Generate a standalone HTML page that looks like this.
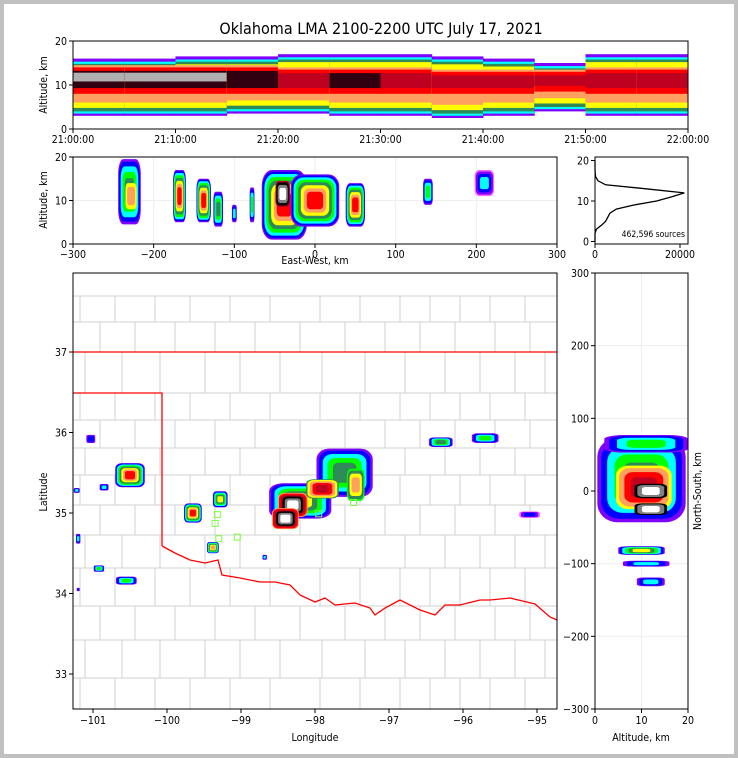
<!DOCTYPE html>
<html><head><meta charset="utf-8"><style>
html,body{margin:0;padding:0;background:#c0c0c0;}
#wrap{position:absolute;left:4px;top:4px;width:730px;height:750px;background:#fff;}
svg{position:absolute;left:0;top:0;}
text{font-family:"DejaVu Sans Condensed","DejaVu Sans","Liberation Sans",sans-serif;font-size:10.5px;fill:#000;}
</style></head><body>
<div id="wrap"></div>
<svg id="fig" width="738" height="758" viewBox="0 0 738 758">
<text x="381" y="34" text-anchor="middle" style="font-size:16px">Oklahoma LMA 2100-2200 UTC July 17, 2021</text>
<g id="time"></g><g id="ew"></g><g id="hist"></g><g id="map"></g><g id="ns"></g>
</svg>
<script>
// ---------- data ----------
const levelColors=['#ff66ff','#8000ff','#0000ff','#00ffff','#00ff00','#2e8b57','#ffff00','#ffa060','#ff0000','#c00020','#000000','#808080','#ffffff'];
// time-height: per 5-min bin
const timeBins=[0,5,10,15,20,25,30,35,40,45,50,55];
const timeBot=[3,3,3,3.5,3.5,3,3,2.5,3,4,3,3];
const timeTop=[16,16,16.5,16.5,17,17,17,16.5,16,15,17,17];
const timeCoreBot=[9,9,9,9,9,9,9,9,9,9.5,9,9];
const timeCoreTop=[14,14,14,14,13.5,13.5,13.5,13,13,13,13.5,13.5];
const timePeak=[12,12,12,11,10,11,10,9,9,8,9,9];
// east-west vs altitude cells: x km, alt km, rx km, ry km, start level, peak level
const ewX=[-230,-228,-168,-138,-120,-100,-78,-38,0,50,-40,140,210];
const ewAlt=[12,11,11,10,8,7,9,9,10,9,11.5,12,14];
const ewRx=[14,7,8,9,6,3,3,28,30,12,9,6,12];
const ewRy=[7.5,3,6,5,4,2,4,8,6,5,3,3,3];
const ewStart=[1,6,1,1,1,1,1,1,1,1,9,1,0];
const ewPeak=[5,7,8,8,5,3,4,8,8,8,12,4,3];
// altitude histogram (counts per km)
const histAlt=[0,1,2,3,4,5,6,7,8,9,10,11,12,13,14,15,16,17,18,19,20];
const histCount=[0,0,0,300,1500,2500,3000,3500,5000,9000,14500,18000,21000,12000,2500,700,150,40,10,0,0];
// map cells: lon, lat, rx deg, ry deg, start level, peak level
const cellLon=[-101.03,-100.5,-100.85,-101.22,-99.65,-99.28,-99.38,-101.2,-100.92,-100.55,-97.6,-98.2,-98.3,-98.4,-97.9,-97.45,-96.3,-95.7,-95.1,-98.68,-101.2];
const cellLat=[35.92,35.47,35.32,35.28,35.0,35.17,34.57,34.68,34.31,34.16,35.5,35.15,35.1,34.93,35.3,35.35,35.88,35.93,34.98,34.45,34.05];
const cellRx=[0.06,0.2,0.06,0.04,0.12,0.1,0.08,0.03,0.07,0.14,0.38,0.42,0.2,0.18,0.22,0.12,0.16,0.18,0.14,0.03,0.02];
const cellRy=[0.05,0.15,0.04,0.03,0.12,0.1,0.07,0.06,0.04,0.05,0.3,0.22,0.15,0.13,0.12,0.2,0.06,0.06,0.04,0.03,0.02];
const cellStart=[1,1,1,1,1,1,1,1,1,1,1,1,7,7,5,4,1,1,0,1,1];
const cellPeak=[2,8,3,3,8,6,7,3,4,4,5,6,12,12,9,7,5,4,2,3,2];
// station markers
const staLon=[-99.35,-99.3,-99.05,-99.32,-97.48,-97.95];
const staLat=[34.87,34.68,34.7,34.98,35.13,34.99];
// north-south vs altitude cells: alt km, ns km, rx km, ry km, start, peak
const nsAlt=[10,10.5,12,12,11,10,11,12];
const nsNS=[15,5,0,-25,65,-82,-100,-125];
const nsRx=[9.5,6,3.5,3.5,9,5,5,3];
const nsRy=[58,30,10,8,12,6,4,6];
const nsStart=[1,6,10,10,1,1,1,1];
const nsPeak=[5,9,12,12,4,6,3,3];
// ticks
const timeTicks=['21:00:00','21:10:00','21:20:00','21:30:00','21:40:00','21:50:00','22:00:00'];
const lonTicks=[-101,-100,-99,-98,-97,-96,-95];
const latTicks=[33,34,35,36,37];

// ---------- helpers ----------
const NS='http://www.w3.org/2000/svg';
function mk(parent,tag,attrs){const e=document.createElementNS(NS,tag);for(const k in attrs)e.setAttribute(k,attrs[k]);parent.appendChild(e);return e;}
function txt(parent,x,y,s,anchor,extra){const t=mk(parent,'text',Object.assign({x:x,y:y,'text-anchor':anchor||'middle'},extra||{}));t.textContent=s;return t;}
function lbl(e,n){}
function blob(g,cx,cy,rx,ry,start,peak,name){
  const n=peak-start+1;
  for(let l=start;l<=peak;l++){const f=1-0.8*Math.pow((l-start)/n,1.4);
    const w=Math.max(rx*f,1),h=Math.max(ry*f,1);
    const e=mk(g,'rect',{x:cx-w,y:cy-h,width:2*w,height:2*h,rx:w*0.45,ry:h*0.45,fill:levelColors[l]});
    
    }
}
function frame(g,x0,y0,x1,y1,name){const r=mk(g,'rect',{x:x0,y:y0,width:x1-x0,height:y1-y0,fill:'none',stroke:'#000','stroke-width':1});}

// ---------- time-height panel ----------
(function(){const g=document.getElementById('time');const X0=73,X1=688,Y0=41,Y1=129;
 const sx=m=>X0+m*(X1-X0)/60, sy=a=>Y1-a*(Y1-Y0)/20;
 for(let i=0;i<timeBins.length;i++){
   const x0=sx(timeBins[i]),x1=sx(timeBins[i]+5);
   const layers=[[timeBot[i],timeTop[i],'#8000ff'],[timeBot[i]+0.5,timeTop[i]-0.7,'#00ffff'],[timeBot[i]+1,timeTop[i]-1.2,'#2e8b57'],[timeBot[i]+1.8,timeTop[i]-1.8,'#ffff00'],[timeBot[i]+3,timeCoreTop[i]+0.5,'#ffa060'],[timeCoreBot[i]-1,timeCoreTop[i],'#ff0000']];
   layers.forEach(L=>{const r=mk(g,'rect',{x:x0,y:sy(L[1]),width:x1-x0+0.5,height:sy(L[0])-sy(L[1]),fill:L[2]});
     
     });
   const c=mk(g,'rect',{x:x0,y:sy(timeCoreTop[i]-0.8),width:x1-x0+0.5,height:sy(timeCoreBot[i]+0.3)-sy(timeCoreTop[i]-0.8),fill:timePeak[i]>=11?'#300010':'#c00020'});
   
   
   if(timePeak[i]>=12){const w=mk(g,'rect',{x:x0,y:sy(12.8),width:x1-x0+0.5,height:sy(10.8)-sy(12.8),fill:'#b0b0b0'});
     
     }
 }
 frame(g,X0,Y0,X1,Y1,'time-height-axes');
 [0,10,20].forEach(v=>{mk(g,'line',{x1:X0-4,x2:X0,y1:sy(v),y2:sy(v),stroke:'#000'});txt(g,X0-6,sy(v)+4,v,'end');});
 timeTicks.forEach((s,i)=>{const x=sx(i*10);mk(g,'line',{x1:x,x2:x,y1:Y1,y2:Y1+4,stroke:'#000'});txt(g,x,Y1+14,s);});
 lbl(txt(g,0,0,'Altitude, km','middle',{transform:'translate(47,85) rotate(-90)'}),'time-y-axis-title');
})();

// ---------- east-west panel ----------
(function(){const g=document.getElementById('ew');const X0=73,X1=557,Y0=157,Y1=244;
 const sx=v=>X0+(v+300)*(X1-X0)/600, sy=a=>Y1-a*(Y1-Y0)/20;
 [-200,-100,0,100,200].forEach(v=>mk(g,'line',{x1:sx(v),x2:sx(v),y1:Y0,y2:Y1,stroke:'#eee'}));
 mk(g,'line',{x1:X0,x2:X1,y1:sy(10),y2:sy(10),stroke:'#eee'});
 for(let i=0;i<ewX.length;i++){const kx=(X1-X0)/600,ky=(Y1-Y0)/20;blob(g,sx(ewX[i]),sy(ewAlt[i]),ewRx[i]*kx,ewRy[i]*ky,ewStart[i],ewPeak[i],'ew-storm-cell');}
 frame(g,X0,Y0,X1,Y1,'east-west-axes');
 [0,10,20].forEach(v=>{mk(g,'line',{x1:X0-4,x2:X0,y1:sy(v),y2:sy(v),stroke:'#000'});txt(g,X0-6,sy(v)+4,v,'end');});
 [-300,-200,-100,0,100,200,300].forEach(v=>{const x=sx(v);mk(g,'line',{x1:x,x2:x,y1:Y1,y2:Y1+4,stroke:'#000'});txt(g,x,Y1+14,v<0?'\u2212'+(-v):v);});
 lbl(txt(g,315,264,'East-West, km'),'ew-x-axis-title');
 lbl(txt(g,0,0,'Altitude, km','middle',{transform:'translate(47,200) rotate(-90)'}),'ew-y-axis-title');
})();

// ---------- histogram ----------
(function(){const g=document.getElementById('hist');const X0=595,X1=688,Y0=157,Y1=244;
 const sx=c=>X0+c*85/20000, sy=a=>241.5-a*4.05;
 let d='';histAlt.forEach((a,i)=>{d+=(i?'L':'M')+sx(histCount[i]).toFixed(1)+','+sy(a).toFixed(1);});
 const p=mk(g,'path',{d:d,fill:'none',stroke:'#000','stroke-width':1.3});
 
 
 frame(g,X0,Y0,X1,Y1,'histogram-axes');
 [0,10,20].forEach(v=>{mk(g,'line',{x1:X0-4,x2:X0,y1:sy(v),y2:sy(v),stroke:'#000'});txt(g,X0-6,sy(v)+4,v,'end');});
 [[0,'0'],[20000,'20000']].forEach(t=>{mk(g,'line',{x1:sx(t[0]),x2:sx(t[0]),y1:Y1,y2:Y1+4,stroke:'#000'});txt(g,sx(t[0]),Y1+14,t[1]);});
 lbl(txt(g,685,237,'462,596 sources','end',{style:'font-size:8.5px'}),'source-count');
})();

// ---------- map ----------
(function(){const g=document.getElementById('map');const X0=73,X1=557,Y0=273,Y1=709;
 const sx=l=>93+(l+101)*74, sy=l=>352-(l-37)*80.5;
 const gl=(pts,c,w,n)=>{const p=mk(g,'polyline',{points:pts.map(q=>q.join(',')).join(' '),fill:'none',stroke:c,'stroke-width':w});};
 const hy=[296,322,352,393,420,448,475,505,535,568,606,640,678];
 hy.forEach(y=>gl([[X0,y],[X1,y]],'#d0d0d0',1,'county-line'));
 const vx=[[80,115,155,190,230,270,320,360,400,430,460,490,525],[100,135,175,215,255,300,345,385,420,455,495,530],[85,122,160,205,240,280,322,365,405,445,480,515,545]];
 hy.forEach((y,i)=>{if(i===hy.length-1)return;const row=vx[i%3];row.forEach(x=>gl([[x,y],[x,hy[i+1]]],'#d0d0d0',1,'county-line'));});
 vx[0].forEach(x=>gl([[x,678],[x,709]],'#d0d0d0',1,'county-line'));
 gl([[X0,352],[X1,352]],'#ff0000',1.3,'oklahoma-north-border');
 gl([[X0,393],[162,393],[162,546]],'#ff0000',1.3,'panhandle-border');
 gl([[162,546],[175,553],[190,560],[205,563],[218,560],[222,575],[240,578],[260,582],[275,582],[290,585],[300,595],[315,602],[325,598],[335,605],[355,603],[370,608],[375,615],[385,608],[400,600],[420,610],[435,615],[445,605],[460,605],[480,600],[490,600],[510,598],[535,604],[550,617],[557,620]],'#ff0000',1.3,'red-river-border');
 for(let i=0;i<cellLon.length;i++)blob(g,sx(cellLon[i]),sy(cellLat[i]),cellRx[i]*74,cellRy[i]*80.5,cellStart[i],cellPeak[i],'map-storm-cell');
 for(let i=0;i<staLon.length;i++){const r=mk(g,'rect',{x:sx(staLon[i])-3,y:sy(staLat[i])-3,width:6,height:6,fill:'none',stroke:'#80ff40','stroke-width':1});
   
   }
 frame(g,X0,Y0,X1,Y1,'map-axes');
 latTicks.forEach(v=>{mk(g,'line',{x1:X0-4,x2:X0,y1:sy(v),y2:sy(v),stroke:'#000'});txt(g,X0-6,sy(v)+4,v,'end');});
 lonTicks.forEach(v=>{const x=sx(v);mk(g,'line',{x1:x,x2:x,y1:Y1,y2:Y1+4,stroke:'#000'});txt(g,x,Y1+15,'\u2212'+(-v));});
 lbl(txt(g,315,741,'Longitude'),'map-x-axis-title');
 lbl(txt(g,0,0,'Latitude','middle',{transform:'translate(47,492) rotate(-90)'}),'map-y-axis-title');
})();

// ---------- north-south panel ----------
(function(){const g=document.getElementById('ns');const X0=595,X1=688,Y0=273,Y1=709;
 const sx=a=>X0+a*(X1-X0)/20, sy=v=>491-v*(Y1-Y0)/600;
 [-200,-100,0,100,200].forEach(v=>mk(g,'line',{x1:X0,x2:X1,y1:sy(v),y2:sy(v),stroke:'#eee'}));
 mk(g,'line',{x1:sx(10),x2:sx(10),y1:Y0,y2:Y1,stroke:'#eee'});
 for(let i=0;i<nsAlt.length;i++)blob(g,sx(nsAlt[i]),sy(nsNS[i]),nsRx[i]*(X1-X0)/20,nsRy[i]*(Y1-Y0)/600,nsStart[i],nsPeak[i],'ns-storm-cell');
 frame(g,X0,Y0,X1,Y1,'north-south-axes');
 [-300,-200,-100,0,100,200,300].forEach(v=>{mk(g,'line',{x1:X0-4,x2:X0,y1:sy(v),y2:sy(v),stroke:'#000'});txt(g,X0-6,sy(v)+4,v<0?'\u2212'+(-v):v,'end');});
 [0,10,20].forEach(v=>{mk(g,'line',{x1:sx(v),x2:sx(v),y1:Y1,y2:Y1+4,stroke:'#000'});txt(g,sx(v),Y1+15,v);});
 lbl(txt(g,641,741,'Altitude, km'),'ns-x-axis-title');
 lbl(txt(g,0,0,'North-South, km','middle',{transform:'translate(701,491) rotate(-90)'}),'ns-y-axis-title');
})();
</script>
</body></html>
